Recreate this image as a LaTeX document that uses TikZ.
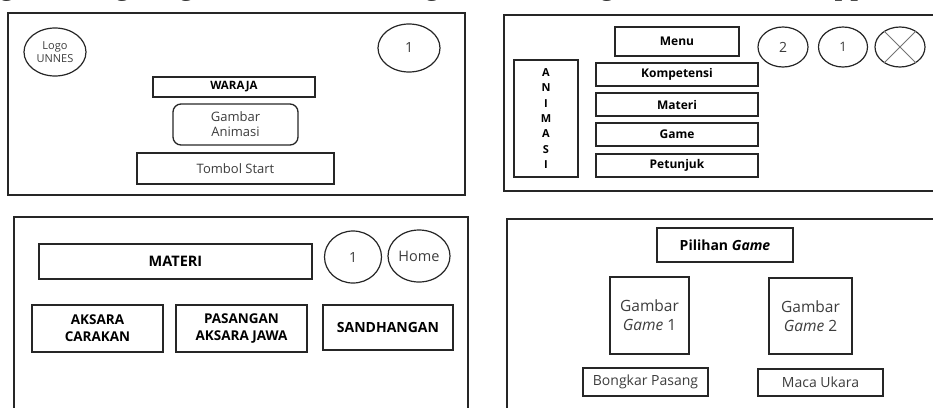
\documentclass[tikz,border=0pt]{standalone}
\usepackage{fontspec}
\setsansfont{Open Sans}
\newfontfamily\capfont{Liberation Serif}
\usetikzlibrary{shapes.geometric}
\definecolor{txtgray}{HTML}{3C3C3C}
\newcommand{\fs}[2]{\fontsize{#1}{#2}\selectfont}

\begin{document}
\begin{tikzpicture}[x=1pt, y=-1pt,
  panel/.style={draw=black!85, line width=1.8pt},
  box/.style={draw=black!85, line width=1.3pt, rectangle, inner sep=0pt, align=center, text=txtgray},
  oval/.style={draw=black!85, line width=1.2pt, ellipse, inner sep=0pt, align=center, text=txtgray},
  bold/.style={text=black}]

\useasboundingbox (0,0) rectangle (933,407);

\node[anchor=base west, inner sep=0pt, font=\capfont\fs{31.5}{32}] (cap) at (-1,-6) {gn for Digital game-based learning media through the WARAJA application};

\draw[panel]  (8,13) rectangle (465,195);
\draw[panel]  (504,15) rectangle (945,191);
\draw[panel]  (14,217) rectangle (468,420);
\draw[panel]  (507,219) rectangle (945,420);

\node[oval, minimum width=62pt, minimum height=48pt, font=\sffamily\fs{11}{12.5}] (logo) at (55,52) {Logo\\UNNES};
\node[oval, minimum width=62pt, minimum height=48pt, font=\sffamily\fs{14}{15}] (numa) at (409,48) {1};
\node[box, bold, minimum width=162pt, minimum height=20pt, font=\sffamily\bfseries\fs{11.5}{12}] (waraja) at (234,87) {WARAJA};
\node[box, rounded corners=8pt, minimum width=125pt, minimum height=41pt, font=\sffamily\fs{13}{15}] (gbanim) at (235.5,124.5) {Gambar\\Animasi};
\node[box, minimum width=197pt, minimum height=31pt, font=\sffamily\fs{13}{15}] (start) at (235.5,168.5) {Tombol Start};

\node[box, bold, minimum width=64pt, minimum height=117pt, font=\sffamily\bfseries\fs{11}{15.3}] (anim) at (546,118.5) {A\\N\\I\\M\\A\\S\\I};
\node[box, bold, minimum width=124pt, minimum height=29pt, font=\sffamily\bfseries\fs{12}{13}] (menu) at (677,41.5) {Menu};
\node[box, bold, minimum width=162pt, minimum height=23pt, font=\sffamily\bfseries\fs{12}{13}] (komp) at (677,74.5) {Kompetensi};
\node[box, bold, minimum width=162pt, minimum height=23pt, font=\sffamily\bfseries\fs{12}{13}] (materi) at (677,104.5) {Materi};
\node[box, bold, minimum width=162pt, minimum height=23pt, font=\sffamily\bfseries\fs{12}{13}] (game) at (677,134.5) {Game};
\node[box, bold, minimum width=162pt, minimum height=23pt, font=\sffamily\bfseries\fs{12}{13}] (petunjuk) at (677,165.5) {Petunjuk};
\node[oval, minimum width=50pt, minimum height=40pt, font=\sffamily\fs{14}{15}] (numb) at (783,47) {2};
\node[oval, minimum width=49pt, minimum height=40pt, font=\sffamily\fs{13}{15}] (numc) at (843,47) {1};
\node[oval, minimum width=50pt, minimum height=40pt] (close) at (900,47) {};
\draw[black!55, line width=0.8pt] (close.45) -- (close.225);
\draw[black!55, line width=0.8pt] (close.135) -- (close.315);

\node[box, bold, minimum width=273pt, minimum height=35pt, font=\sffamily\bfseries\fs{14.5}{16}] (materi2) at (175.5,261.5) {MATERI};
\node[oval, minimum width=57pt, minimum height=52pt, font=\sffamily\fs{14}{15}] (numd) at (353,257) {1};
\node[oval, minimum width=62pt, minimum height=52pt, font=\sffamily\fs{14.5}{15}] (home) at (419,256) {Home};
\node[box, bold, minimum width=131pt, minimum height=47pt, font=\sffamily\bfseries\fs{13.5}{17}] (aksara) at (97.5,328.5) {AKSARA\\CARAKAN};
\node[box, bold, minimum width=131pt, minimum height=47pt, font=\sffamily\bfseries\fs{13.5}{17}] (pasangan) at (241.5,328.5) {PASANGAN\\AKSARA JAWA};
\node[box, bold, minimum width=130pt, minimum height=45pt, font=\sffamily\bfseries\fs{14}{15}] (sandh) at (388,327.5) {SANDHANGAN};

\node[box, bold, minimum width=136pt, minimum height=34pt, font=\sffamily\bfseries\fs{14}{15}] (pilihan) at (725,245) {Pilihan \textit{Game}};
\node[box, minimum width=79pt, minimum height=77pt, font=\sffamily\fs{15.5}{19}] (gamea) at (649.5,315.5) {Gambar\\\textit{Game} 1};
\node[box, minimum width=83pt, minimum height=76pt, font=\sffamily\fs{15.5}{19}] (gameb) at (810.5,316) {Gambar\\\textit{Game} 2};
\node[box, minimum width=125pt, minimum height=28pt, font=\sffamily\fs{14}{15}] (bongkar) at (645.5,382) {Bongkar Pasang};
\node[box, minimum width=125pt, minimum height=27pt, font=\sffamily\fs{14}{15}] (maca) at (820.5,382.5) {Maca Ukara};
\end{tikzpicture}
\end{document}
